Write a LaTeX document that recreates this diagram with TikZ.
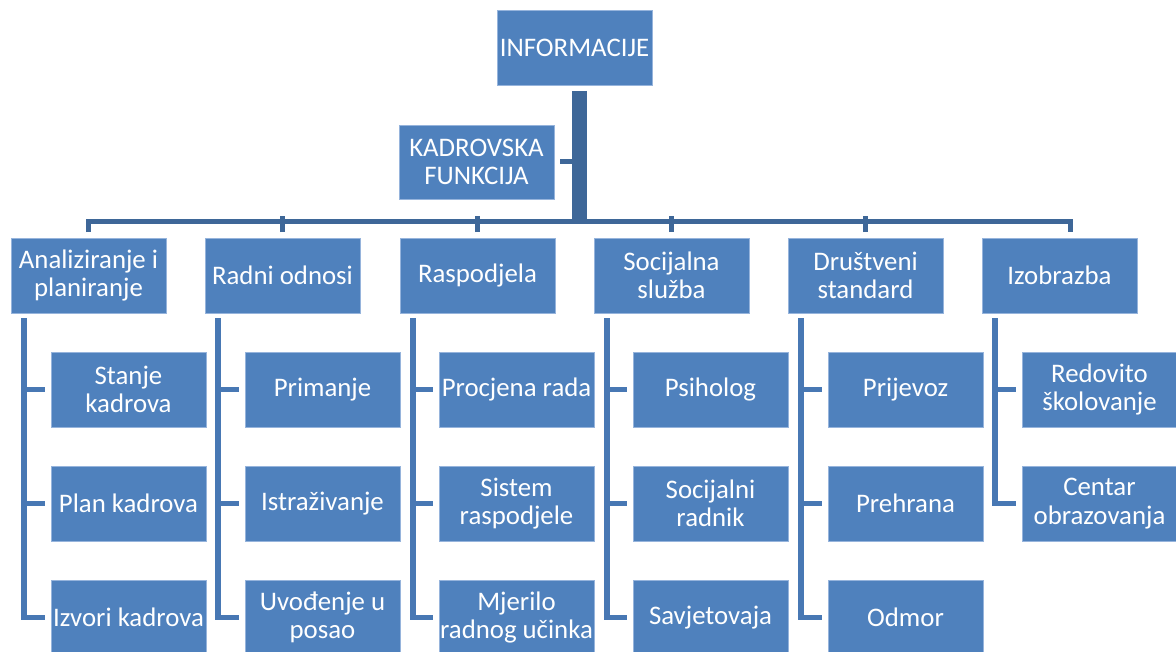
\documentclass[tikz,border=0pt]{standalone}
\usepackage{fontspec}
\setmainfont{Carlito}
\definecolor{boxblue}{RGB}{79,129,189}
\definecolor{boxedge}{RGB}{150,180,220}
\definecolor{trunkblue}{RGB}{62,103,152}
\definecolor{subblue}{RGB}{72,120,180}
\tikzset{
  box/.style={rectangle, fill=boxblue, draw=boxedge, line width=0.8pt,
    minimum width=155pt, minimum height=75pt, inner sep=0pt, align=center,
    text=white, font=\fontsize{26.8}{28.5}\selectfont},
  trunk/.style={draw=trunkblue, line width=15pt},
  bus/.style={draw=trunkblue, line width=5pt, line join=miter},
  sub/.style={draw=subblue, line width=5.5pt, line join=miter},
}
\begin{document}
\begin{tikzpicture}[x=1pt,y=-1pt]
\useasboundingbox (0,0) rectangle (1176,652);
\clip (0,0) rectangle (1176,652);
\fill[white] (0,0) rectangle (1176,652);
% top
\node[box] (info) at (574.5,47.5) {INFORMACIJE};
\node[box, minimum height=74pt] (kadr) at (476.5,162) {KADROVSKA\\FUNKCIJA};
% level 1
\node[box] (l1) at (88.5,275.5) {Analiziranje i\\planiranje};
\node[box] (l2) at (282.5,275.5) {Radni odnosi};
\node[box] (l3) at (477.5,275.5) {Raspodjela};
\node[box] (l4) at (671.5,275.5) {Socijalna\\služba};
\node[box] (l5) at (865.5,275.5) {Društveni\\standard};
\node[box] (l6) at (1059.5,275.5) {Izobrazba};
% children
\node[box] (c11) at (128.5,389.5) {Stanje\\kadrova};
\node[box] (c12) at (128.5,503.5) {Plan kadrova};
\node[box] (c13) at (128.5,617.5) {Izvori kadrova};
\node[box] (c21) at (322.5,389.5) {Primanje};
\node[box] (c22) at (322.5,503.5) {Istraživanje};
\node[box] (c23) at (322.5,617.5) {Uvođenje u\\posao};
\node[box] (c31) at (516.5,389.5) {Procjena rada};
\node[box] (c32) at (516.5,503.5) {Sistem\\raspodjele};
\node[box] (c33) at (516.5,617.5) {Mjerilo\\radnog učinka};
\node[box] (c41) at (710.5,389.5) {Psiholog};
\node[box] (c42) at (710.5,503.5) {Socijalni\\radnik};
\node[box] (c43) at (710.5,617.5) {Savjetovaja};
\node[box] (c51) at (905.5,389.5) {Prijevoz};
\node[box] (c52) at (905.5,503.5) {Prehrana};
\node[box] (c53) at (905.5,617.5) {Odmor};
\node[box] (c61) at (1099.5,389.5) {Redovito\\školovanje};
\node[box] (c62) at (1099.5,503.5) {Centar\\obrazovanja};
% trunk
\coordinate (tTop) at (579.5,91);
\coordinate (tBot) at (579.5,221.5);
\draw[trunk] (tTop) -- (tBot);
\draw[bus] ([xshift=6pt]kadr.east) -- ([xshift=6pt]kadr.east -| tTop);
% bus
\draw[bus] ([yshift=5.5pt]l1.north) |- (tBot) -| ([xshift=10.5pt,yshift=5.5pt]l6.north);
\foreach \n in {2,3,4,5}
  \draw[bus] ([yshift=5.5pt]l\n.north) -- ([yshift=5.5pt]l\n.north |- tBot);
% sub lines
\foreach \p/\last in {1/3,2/3,3/3,4/3,5/3,6/2}{
  \coordinate (v\p) at ([xshift=13.5pt,yshift=-5pt]l\p.south west);
  \draw[sub] (v\p) |- ([xshift=-6pt]c\p\last.west);
  \foreach \k in {1,...,\last}{
    \coordinate (s\p\k) at ([xshift=-6pt]c\p\k.west);
    \draw[sub] (s\p\k) -- (s\p\k -| v\p);
  }
}
\end{tikzpicture}
\end{document}
